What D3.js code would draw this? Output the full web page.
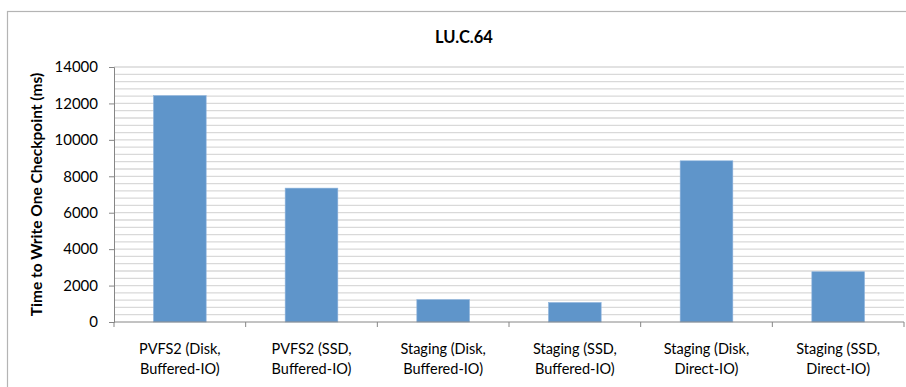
<!DOCTYPE html>
<html><head><meta charset="utf-8">
<script src="https://cdn.jsdelivr.net/npm/d3@7"></script>
<style>body{margin:0;background:#fff;}svg{display:block;font-family:Lato,"Open Sans",sans-serif;}</style>
</head><body>
<svg id="c" width="906" height="387"></svg>
<script>
const title = "LU.C.64";
const yTitle = "Time to Write One Checkpoint (ms)";
const categories = [
  ["PVFS2 (Disk,", "Buffered-IO)"],
  ["PVFS2 (SSD,", "Buffered-IO)"],
  ["Staging (Disk,", "Buffered-IO)"],
  ["Staging (SSD,", "Buffered-IO)"],
  ["Staging (Disk,", "Direct-IO)"],
  ["Staging (SSD,", "Direct-IO)"]
];
const values = [12430, 7350, 1230, 1070, 8850, 2760];
const yTicks = [0, 2000, 4000, 6000, 8000, 10000, 12000, 14000];
const yMinorStep = 400;

const svg = d3.select("#c");
const m = {left: 114, right: 904, top: 67, bottom: 322};

svg.append("rect").attr("x", 7.5).attr("y", 11.5).attr("width", 1000).attr("height", 500)
  .attr("fill", "#fff").attr("stroke", "#b4b4b4").attr("stroke-width", 1.2);

const x = d3.scaleBand().domain(d3.range(categories.length)).range([m.left, m.right])
  .paddingInner(0.6).paddingOuter(0.3);
const y = d3.scaleLinear().domain([0, 14000]).range([m.bottom, m.top]);

// gridlines (major + minor)
const grid = d3.range(yMinorStep, 14000 + 1, yMinorStep);
svg.append("g").selectAll("line").data(grid).join("line")
  .attr("x1", m.left).attr("x2", m.right)
  .attr("y1", d => y(d)).attr("y2", d => y(d))
  .attr("stroke", "#d9d9d9").attr("stroke-width", 1.3);

// bars
svg.append("g").selectAll("rect").data(values).join("rect")
  .attr("x", (d, i) => x(i)).attr("width", x.bandwidth())
  .attr("y", d => y(d)).attr("height", d => y(0) - y(d))
  .attr("fill", "#5f95ca").attr("stroke", "#8db3dc").attr("stroke-width", 0.6);

// y axis
const yAxis = svg.append("g").attr("transform", `translate(${m.left},0)`)
  .call(d3.axisLeft(y).tickValues(yTicks).tickSize(5).tickPadding(11).tickFormat(d3.format("d")));
yAxis.select(".domain").attr("stroke", "#868686");
yAxis.selectAll(".tick line").attr("stroke", "#868686");
yAxis.selectAll("text").attr("font-size", 15).attr("fill", "#000").attr("font-family", "Lato");

// x axis line and ticks at band boundaries
const boundaries = d3.range(categories.length + 1).map(i => m.left + i * x.step());
svg.append("line").attr("x1", m.left).attr("x2", m.right).attr("y1", m.bottom).attr("y2", m.bottom)
  .attr("stroke", "#868686");
svg.append("g").selectAll("line").data(boundaries).join("line")
  .attr("x1", d => d).attr("x2", d => d).attr("y1", m.bottom).attr("y2", m.bottom + 5)
  .attr("stroke", "#868686");

// x labels
const xl = svg.append("g").selectAll("text").data(categories).join("text")
  .attr("text-anchor", "middle").attr("font-size", 14.5).attr("fill", "#000")
  .attr("x", (d, i) => x(i) + x.bandwidth() / 2);
xl.append("tspan").attr("y", 354).attr("x", (d, i) => x(i) + x.bandwidth() / 2).text(d => d[0]);
xl.append("tspan").attr("y", 374).attr("x", (d, i) => x(i) + x.bandwidth() / 2).text(d => d[1]);

// title
svg.append("text").attr("x", 464).attr("y", 43).attr("text-anchor", "middle")
  .attr("font-size", 16.5).attr("font-weight", "bold").text(title);

// y title
svg.append("text").attr("transform", `translate(42,${(m.top + m.bottom) / 2}) rotate(-90)`)
  .attr("text-anchor", "middle").attr("font-size", 15.5).attr("font-weight", "bold").text(yTitle);
</script>
</body></html>
